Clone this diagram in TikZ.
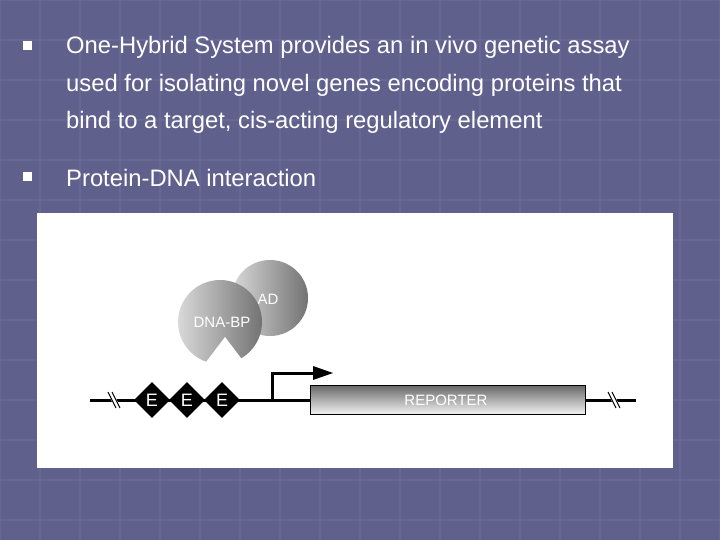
\documentclass[tikz,border=0pt]{standalone}
\usepackage{fontspec}
\setmainfont{Liberation Sans}
\usetikzlibrary{shapes.geometric}
\begin{document}
\begin{tikzpicture}[x=1pt,y=-1pt,
  txt/.style={text=white,font=\fontsize{23.8}{26}\selectfont,anchor=west,inner sep=0},
  bul/.style={fill=white,minimum size=9pt,inner sep=0},
  dia/.style={diamond,fill=black,text=white,minimum size=36pt,inner sep=0,font=\fontsize{18}{18}\selectfont},
  lab/.style={text=white,font=\fontsize{15}{15}\selectfont,inner sep=0}]
\useasboundingbox (0,0) rectangle (720,540);
\fill[color={rgb,255:red,96;green,96;blue,140}] (0,0) rectangle (720,540);
\foreach \i in {0,40,...,720}{\draw[color={rgb,255:red,104;green,104;blue,148},line width=1.2pt] (\i,0)--(\i,540);}
\foreach \j in {0,40,...,540}{\draw[color={rgb,255:red,104;green,104;blue,148},line width=1.2pt] (0,\j)--(720,\j);}
\node[bul] (b1) at (27,46) {};
\node[txt] (t1) at (66,47) {One-Hybrid System provides an in vivo genetic assay};
\node[txt] (t2) at (66,85) {used for isolating novel genes encoding proteins that};
\node[txt] (t3) at (66,122) {bind to a target, cis-acting regulatory element};
\node[bul] (b2) at (27,177) {};
\node[txt] (t4) at (66,178) {Protein-DNA interaction};
\fill[white] (37,213) rectangle (673,468);
% spheres
\shade[left color=gray!30,right color=gray!90!black] (270,298) circle (38);
\node[lab] (ad) at (268,299) {AD};
\shade[left color=gray!30,right color=gray!90!black] (220,322) circle (42);
\fill[white] (225,337) -- (200,370) -- (250,370) -- cycle;
\node[lab] (bp) at (222,322) {DNA-BP};
% DNA
\coordinate (l) at (90,400); \coordinate (r) at (636,400);
\draw[line width=3pt] (l) -- (r);
\foreach \x in {114,614}{\draw[line width=5pt,white] (\x-4,392)--(\x+4,408);\draw[line width=1pt] (\x-6,392)--(\x+2,408);\draw[line width=1pt] (\x-2,392)--(\x+6,408);}
\node[dia] (e1) at (152,400) {E};
\node[dia] (e2) at (187,400) {E};
\node[dia] (e3) at (222,400) {E};
\coordinate (p0) at (272,400);
\draw[line width=3pt] (p0) -- (272,373) -- (315,373);
\fill (313,366) -- (333,373) -- (313,380) -- cycle;
\shade[top color=gray!80!black,bottom color=gray!10,draw=black,line width=1pt] (310,385) rectangle (585,414);
\node[lab] (rep) at (446,400) {REPORTER};
\end{tikzpicture}
\end{document}
